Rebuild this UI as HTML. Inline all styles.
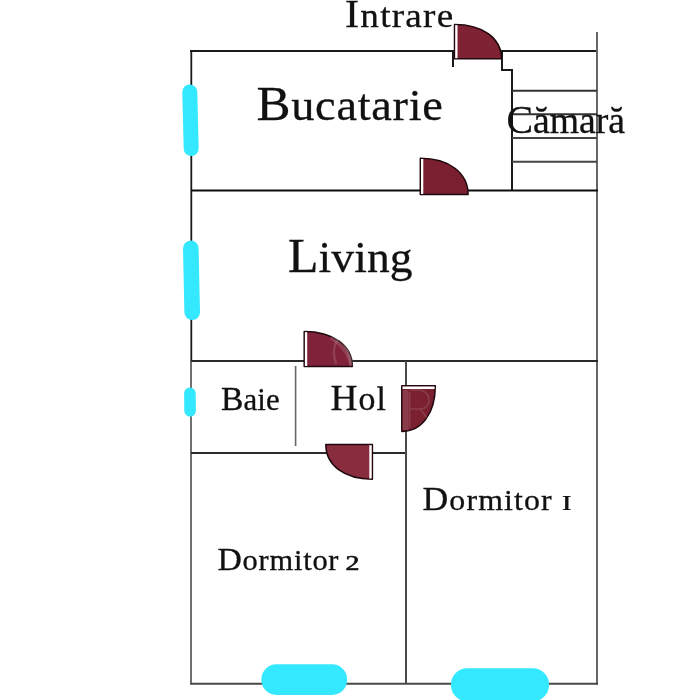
<!DOCTYPE html>
<html><head><meta charset="utf-8">
<style>
html,body{margin:0;padding:0;background:#fff;width:700px;height:700px;overflow:hidden}
svg{display:block}
text{font-family:"Liberation Serif",serif;fill:#111;stroke:#111;stroke-width:0.3px}
svg{will-change:transform}
</style></head>
<body>
<svg width="700" height="700" viewBox="0 0 700 700">
<rect width="700" height="700" fill="#fff"/>
<g fill="none" stroke-width="2" stroke-linecap="butt">
  <path d="M190 51 H453 V67" stroke="#1a1a1a"/>
  <path d="M502 51 H597 M502 50 V70 H512 V190" stroke="#1a1a1a"/>
  <path d="M597 32 V684.7" stroke="#666"/>
  <path d="M512 90.7 H597 M512 114.2 H597" stroke="#333"/>
  <path d="M512 137.9 H597 M512 161.7 H597" stroke="#444"/>
  <path d="M191.3 50 V361" stroke="#1a1a1a" stroke-width="1.8"/>
  <path d="M191 361 V683.7" stroke="#707070"/>
  <path d="M190 683.7 H598" stroke="#4a4a4a"/>
  <path d="M191 190.5 H598" stroke="#0d0d0d" stroke-width="1.8"/>
  <path d="M191 360.9 H598" stroke="#2a2a2a"/>
  <path d="M191 453 H407" stroke="#2a2a2a"/>
  <path d="M406 361 V684" stroke="#4a4a4a"/>
  <path d="M295.6 366 V446" stroke="#666" stroke-width="1.6"/>
</g>
<!-- windows -->
<g fill="#34E8FF" stroke="#34E8FF" stroke-linecap="round">
  <path d="M189.8 92 L191.2 148.5" stroke-width="15"/>
  <path d="M190.8 248.3 L192.2 312.3" stroke-width="15.6"/>
  <path d="M189.9 393.4 L190.1 410.9" stroke-width="11.6"/>
  <rect x="261.4" y="664.3" width="85.7" height="30.7" rx="15" stroke="none"/>
  <rect x="451" y="668.2" width="98" height="33" rx="16" stroke="none"/>
</g>
<!-- doors -->
<g stroke="#1f080d" stroke-width="1.5" stroke-linejoin="round">
  <path d="M454.5 58.8 V24.5 C482.7 24.5 501.5 38.2 501.5 58.8 Z" fill="#7E2234"/>
  <path d="M455.2 25.1 H457.5 V58.2 H455.2 Z" fill="#fff" stroke="none"/>
  <path d="M420.3 194.6 V158.3 C449.0 158.3 468.1 172.8 468.1 194.6 Z" fill="#7A1F30"/>
  <path d="M421 159 H423.3 V194 H421 Z" fill="#fff" stroke="none"/>
  <path d="M304.2 366.6 V331.40000000000003 C333.1 331.40000000000003 352.4 345.5 352.4 366.6 Z" fill="#80223A"/>
  <path d="M304.9 332.1 H307.2 V366 H304.9 Z" fill="#fff" stroke="none"/>
  <path d="M401.8 385.8 H435.3 C435.3 413.2 421.9 431.5 401.8 431.5 Z" fill="#7A2031"/>
  <path d="M402.5 386.5 H434.6 V388.9 H402.5 Z" fill="#fff" stroke="none"/>
  <path d="M372.4 444.5 V479.2 C344.4 479.2 325.79999999999995 465.3 325.79999999999995 444.5 Z" fill="#882C3E"/>
  <path d="M371.7 445.2 H369.3 V478.5 H371.7 Z" fill="#fff" stroke="none"/>
</g>
<!-- watermark traces -->
<g fill="none" stroke="#fff" stroke-opacity="0.13">
  <path d="M405.5 390 V430" stroke-width="6"/>
  <path d="M409.7 392 V428 M410 390 H420 C432 392 432 409 420 409 H410 M420 409 L432 424" stroke-width="1.6"/>
  <path d="M331 337 C345 346 350 356 352 366" stroke-width="5"/>
  <path d="M336 364 C332 352 334 342 340 338 C346 345 350 356 351 365" stroke-width="2.5"/>
</g>
<!-- labels -->
<text transform="translate(345.00 26.60) scale(1.0761 1)" letter-spacing="1.177"><tspan font-size="39.2">I</tspan><tspan font-size="34.5">ntrare</tspan></text>
<text transform="translate(256.50 119.60) scale(1.0347 1)" letter-spacing="0.677"><tspan font-size="49.3">B</tspan><tspan font-size="44.8">ucatarie</tspan></text>
<text transform="translate(506.50 132.70) scale(1.0065 1)" letter-spacing="-0.040"><tspan font-size="39.6">C</tspan><tspan font-size="37.5">ămară</tspan></text>
<text transform="translate(288.00 272.00) scale(1.0082 1)" letter-spacing="0.079"><tspan font-size="49.5">L</tspan><tspan font-size="45.2">iving</tspan></text>
<text transform="translate(221.00 409.50) scale(1.0000 1)" letter-spacing="0.067"><tspan font-size="33.6">B</tspan><tspan font-size="30.9">aie</tspan></text>
<text transform="translate(330.50 409.50) scale(1.0192 1)" letter-spacing="0.981"><tspan font-size="36.7">H</tspan><tspan font-size="33.2">ol</tspan></text>
<text transform="translate(422.50 510.40) scale(1.0702 1)" letter-spacing="1.041"><tspan font-size="33.3">D</tspan><tspan font-size="29.8">ormitor</tspan></text>
<text transform="translate(217.50 569.60) scale(1.0496 1)" letter-spacing="0.735"><tspan font-size="32.1">D</tspan><tspan font-size="29.0">ormitor</tspan></text>
<text transform="translate(561.2 510.2) scale(1.32 1)" font-size="29.8" style="stroke-width:0.15px">ɪ</text>
<text transform="translate(345.6 569.6) scale(1.35 1)" font-size="20.7" style="stroke-width:0.6px">2</text>
</svg>
</body></html>
